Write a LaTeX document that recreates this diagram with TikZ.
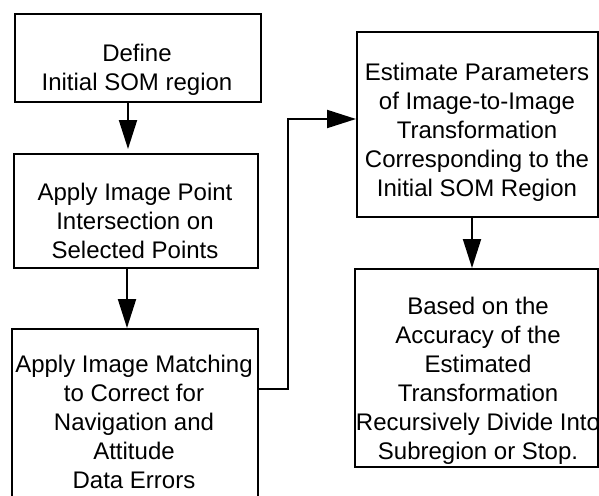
\documentclass[tikz,border=0pt]{standalone}
\usepackage{fontspec}
\setmainfont{Liberation Sans}
\usetikzlibrary{arrows.meta}
\begin{document}
\begin{tikzpicture}[x=1pt,y=-1pt,
  box/.style={draw, line width=1.8pt, inner sep=0pt, anchor=north west},
  txt/.style={align=center, inner sep=0pt, font=\fontsize{24}{29}\selectfont},
  arr/.style={line width=2pt, -{Triangle[length=29pt,width=18pt]}}]
\useasboundingbox (0,0) rectangle (599,495);
\clip (0,0) rectangle (599,495);
% boxes
\node[box, minimum width=246pt, minimum height=88pt]  (b1) at (14,13) {};
\node[box, minimum width=244pt, minimum height=114pt] (b2) at (13,153) {};
\node[box, minimum width=246pt, minimum height=182pt] (b3) at (11,328) {};
\node[box, minimum width=241pt, minimum height=185pt] (b4) at (356,31) {};
\node[box, minimum width=243pt, minimum height=198pt] (b5) at (354,268) {};
% texts
\node[txt] (t1) at (137,70) {Define\\Initial SOM region};
\node[txt] (t2) at (135,221) {Apply Image Point\\Intersection on\\Selected Points};
\node[txt] (t3) at (134,421.5) {Apply Image Matching\\to Correct for\\Navigation and\\Attitude\\Data Errors};
\node[txt] (t4) at (477,132.5) {Estimate Parameters\\of Image-to-Image\\Transformation\\Corresponding to the\\Initial SOM Region};
\node[txt] (t5) at (478,380.5) {Based on the\\Accuracy of the\\Estimated\\Transformation\\Recursively Divide Into\\Subregion or Stop.};
% helper coordinates
\coordinate (x1) at (128,0);
\coordinate (x2) at (127,0);
\coordinate (x4) at (472,0);
\coordinate (c1) at (288,389);
\coordinate (c2) at (288,119);
% connectors
\draw[arr, shorten >=4pt] (b1.south -| x1) -- (b2.north -| x1);
\draw[arr] (b2.south -| x2) -- (b3.north -| x2);
\draw[arr] (b3.east |- c1) -| (c2) -- (b4.west |- c2);
\draw[arr] (b4.south -| x4) -- (b5.north -| x4);
\end{tikzpicture}
\end{document}
